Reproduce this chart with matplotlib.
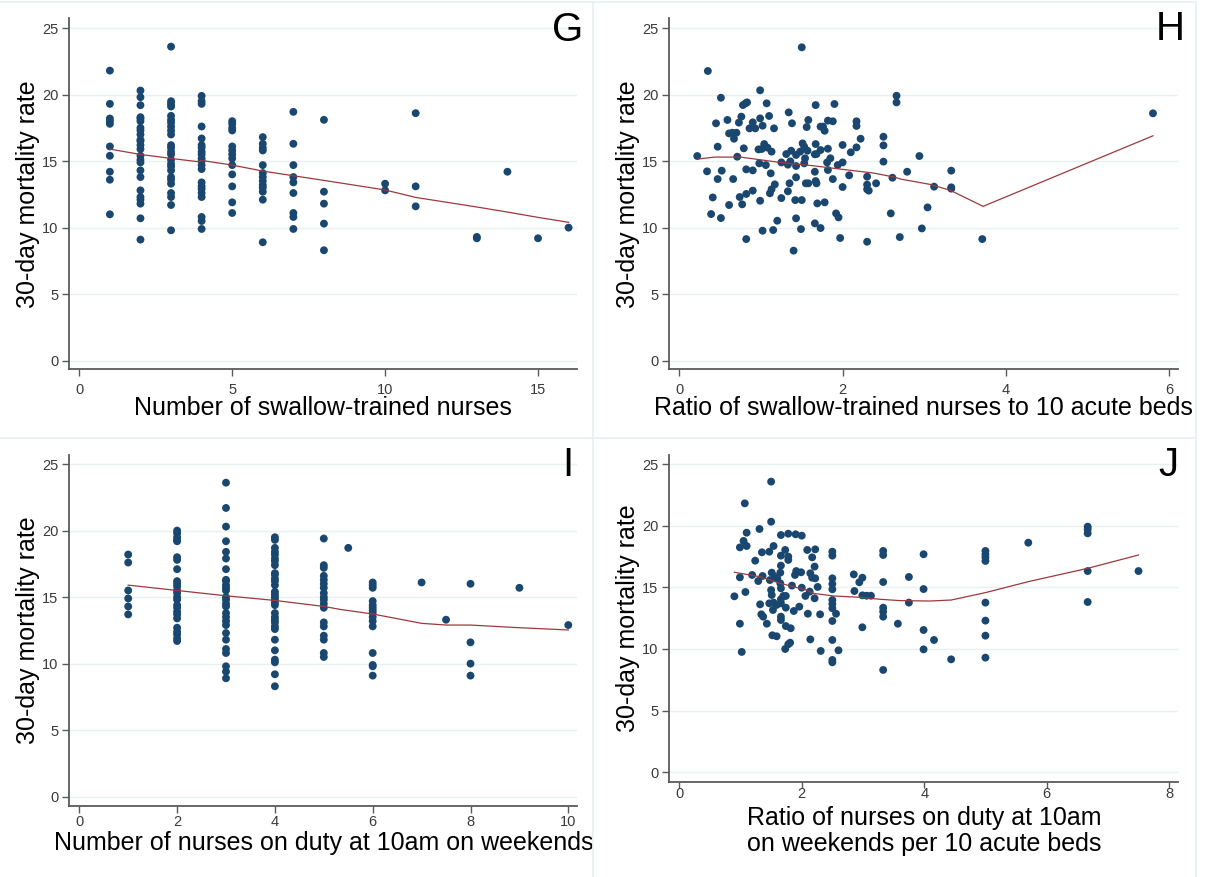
import numpy as np
import matplotlib
matplotlib.use("Agg")
import matplotlib.pyplot as plt
from matplotlib.lines import Line2D

plt.rcParams['font.family'] = ['Liberation Sans', 'DejaVu Sans']

NAVY = '#1a476f'
LINE_RED = '#9b3a3e'
GRID = '#e8f0f1'
AXIS_GREY = '#5a5a5a'

# G: number of swallow-trained nurses (discrete levels) vs 30-day mortality
g_levels = [1, 2, 3, 4, 5, 6, 7, 8, 10, 11, 13, 14, 15, 16]
g_rates = [
    [21.8, 19.3, 18.2, 18.0, 17.8, 16.1, 15.4, 14.2, 13.6, 11.0],
    [20.3, 19.8, 19.2, 18.3, 18.2, 18.0, 17.5, 17.3, 17.0, 16.6, 16.5, 16.2,
     15.9, 15.4, 15.1, 14.9, 14.3, 13.8, 12.8, 12.3, 12.1, 11.8, 10.7, 9.1],
    [23.6, 19.5, 19.3, 19.1, 18.4, 18.1, 17.9, 17.6, 17.3, 17.0, 16.2, 16.0,
     15.7, 15.5, 15.1, 14.8, 14.6, 14.3, 13.8, 13.6, 13.3, 12.6, 12.3, 11.7, 9.8],
    [19.9, 19.5, 19.3, 17.6, 16.7, 16.2, 16.0, 15.7, 15.5, 15.2, 15.0, 14.7,
     14.4, 13.4, 13.1, 12.9, 12.6, 12.3, 10.8, 10.5, 9.9],
    [18.0, 17.8, 17.5, 17.3, 16.1, 15.8, 15.5, 15.2, 14.7, 14.0, 13.1, 11.9, 11.1],
    [16.8, 16.3, 16.0, 15.8, 14.7, 14.1, 13.8, 13.5, 13.2, 13.0, 12.7, 12.1, 8.9],
    [18.7, 16.3, 14.7, 13.8, 13.4, 12.6, 11.1, 10.8, 9.9],
    [18.1, 12.7, 11.8, 10.3, 8.3],
    [13.3, 12.8],
    [18.6, 13.1, 11.6],
    [9.3, 9.2],
    [14.2],
    [9.2],
    [10.0],
]
g_fit_x = [1, 2, 3, 3.9, 4.0, 5, 6, 7, 8, 10, 11, 13, 14, 15, 16]
g_fit_y = [15.9, 15.5, 15.2, 14.95, 15.05, 14.7, 14.25, 13.9, 13.55, 12.83,
           12.27, 11.55, 11.17, 10.77, 10.4]

# H: ratio of swallow-trained nurses to 10 acute beds
h_ratio = [0.35, 1.50, 0.22, 0.51, 0.99, 0.78, 0.81, 0.83, 1.07, 1.67, 1.90,
           0.45, 0.59, 0.73, 0.76, 0.90, 0.99, 1.02, 1.10, 1.34, 1.38, 1.58,
           1.56, 1.76, 1.82, 1.88, 1.78, 1.73, 2.17, 2.17, 2.22, 1.16, 0.86,
           0.93, 0.61, 0.65, 0.70, 0.67, 0.47, 0.71, 0.79, 0.97, 1.01, 1.04,
           1.08, 1.13, 1.31, 1.37, 1.43, 1.51, 1.53, 1.48, 1.57, 1.67, 1.66,
           1.73, 1.82, 2.00, 2.10, 2.17, 2.50, 2.50, 2.50, 0.34, 0.52, 0.47,
           0.66, 0.82, 0.90, 0.98, 1.06, 1.12, 1.25, 1.33, 1.36, 1.43, 1.53,
           1.54, 1.68, 1.66, 1.82, 1.85, 1.81, 1.94, 2.00, 2.08, 2.30, 2.41,
           2.61, 2.79, 2.94, 0.41, 0.39, 0.51, 0.61, 0.77, 0.74, 0.82, 0.90,
           0.99, 1.11, 1.13, 1.17, 1.20, 1.02, 1.15, 1.25, 1.33, 1.35, 1.43,
           1.42, 1.50, 1.43, 1.49, 1.55, 1.58, 1.67, 1.68, 1.69, 1.78, 1.88,
           2.00, 1.92, 1.95, 1.66, 1.73, 1.97, 2.30, 2.30, 2.32, 2.59, 2.66,
           2.66, 2.70, 2.97, 3.04, 0.82, 1.40, 2.30, 3.12, 3.33, 3.33, 3.33,
           3.71, 5.80]
h_rate = [21.77, 23.55, 15.38, 19.76, 20.32, 19.21, 19.34, 19.41, 19.34, 19.21,
          19.29, 17.84, 18.09, 17.89, 18.34, 17.91, 18.21, 17.66, 18.39, 18.66,
          17.84, 18.09, 17.56, 17.59, 18.04, 17.99, 17.28, 17.59, 17.99, 17.64,
          16.68, 17.46, 17.46, 17.46, 17.08, 17.13, 17.13, 16.68, 16.08, 15.33,
          15.96, 15.88, 15.91, 16.28, 16.01, 15.71, 15.53, 15.78, 15.46, 16.33,
          16.08, 15.71, 15.78, 16.28, 15.51, 15.83, 15.93, 16.21, 15.66, 16.03,
          16.83, 16.18, 14.96, 14.23, 14.28, 13.65, 13.65, 14.38, 14.30, 14.83,
          14.70, 14.08, 14.90, 14.73, 14.98, 14.63, 14.83, 15.21, 15.53, 14.20,
          14.33, 15.21, 14.90, 14.70, 14.90, 13.93, 13.83, 13.33, 13.75, 14.20,
          15.38, 12.27, 11.02, 10.72, 11.70, 11.75, 12.30, 12.53, 12.78, 12.02,
          12.58, 12.88, 13.25, 10.52, 9.77, 9.82, 12.22, 12.73, 13.33, 13.78,
          12.07, 12.07, 10.70, 9.89, 13.33, 13.33, 13.50, 13.33, 11.82, 11.90,
          13.65, 13.05, 11.07, 10.77, 10.32, 9.97, 9.22, 13.23, 12.88, 12.78,
          11.07, 19.91, 19.41, 9.29, 9.94, 11.52, 9.14, 8.27, 8.94, 13.08,
          14.28, 13.03, 12.93, 9.14, 18.59]
h_fit_x = [0.22, 0.43, 0.75, 1.23, 1.64, 1.97, 2.38, 2.63, 2.71, 3.07, 3.32, 3.72, 5.80]
h_fit_y = [15.15, 15.3, 15.3, 14.9, 14.65, 14.4, 14.1, 13.8, 13.65, 13.25, 12.8, 11.6, 16.9]

# I: nurses on duty at 10am on weekends (discrete levels)
i_levels = [1, 2, 3, 4, 5, 5.5, 6, 7, 7.5, 8, 9, 10]
i_rates = [
    [18.2, 17.6, 15.5, 14.9, 14.3, 13.7],
    [20.0, 19.8, 19.5, 19.3, 19.2, 18.0, 17.8, 17.1, 16.2, 16.0, 15.8, 15.5,
     15.3, 15.0, 14.8, 14.4, 14.2, 13.9, 13.7, 13.4, 12.7, 12.4, 12.2, 11.9, 11.7],
    [23.6, 21.7, 20.3, 19.2, 18.4, 17.9, 17.1, 16.3, 16.2, 15.9, 15.7, 15.5,
     15.0, 14.8, 14.5, 14.3, 13.8, 13.5, 13.2, 12.9, 12.3, 11.8, 11.1, 10.8,
     9.8, 9.4, 8.9],
    [19.5, 19.3, 18.7, 18.4, 18.2, 17.9, 17.7, 17.4, 16.8, 16.7, 16.4, 16.2,
     15.9, 15.4, 15.2, 15.0, 14.8, 14.6, 14.4, 13.8, 13.5, 13.3, 13.1, 12.8,
     12.6, 11.8, 11.0, 10.3, 10.1, 9.2, 8.3],
    [19.4, 17.4, 17.2, 16.6, 16.3, 16.0, 15.7, 15.3, 15.0, 14.8, 14.5, 14.2,
     13.1, 12.8, 12.1, 11.8, 10.8, 10.5],
    [18.7],
    [16.1, 15.9, 15.7, 14.7, 14.4, 14.2, 14.0, 13.8, 13.5, 13.2, 12.8, 10.8,
     9.9, 9.8, 9.1],
    [16.1],
    [13.3],
    [16.0, 11.6, 10.0, 9.1],
    [15.7],
    [12.9],
]
i_fit_x = [1, 2, 3, 4, 5, 5.33, 6, 7, 7.5, 8, 9, 10]
i_fit_y = [15.9, 15.5, 15.1, 14.75, 14.3, 14.08, 13.73, 13.03, 12.9, 12.9, 12.7, 12.53]

# J: nurses on duty at 10am on weekends per 10 acute beds
j_ratio = [1.50, 1.07, 1.50, 1.31, 1.10, 1.66, 1.78, 1.90, 2.00, 1.05, 1.10,
           0.99, 1.54, 1.35, 1.47, 1.73, 1.66, 1.78, 1.78, 2.09, 2.22, 2.17,
           2.50, 2.50, 3.33, 3.33, 1.24, 2.21, 1.66, 1.51, 1.65, 1.91, 1.99,
           1.89, 2.14, 2.17, 2.22, 1.19, 0.99, 1.36, 1.29, 1.48, 1.56, 1.60,
           1.65, 1.66, 1.84, 2.00, 2.26, 2.50, 2.50, 2.50, 2.85, 2.99, 2.94,
           2.86, 3.33, 3.75, 1.08, 0.90, 1.50, 1.51, 1.70, 1.74, 1.66, 2.06,
           2.13, 2.21, 2.99, 3.06, 3.13, 1.32, 1.47, 1.54, 1.59, 1.53, 1.66,
           1.74, 1.87, 1.96, 2.50, 2.50, 2.50, 3.75, 3.33, 3.33, 3.33, 1.34,
           1.37, 1.66, 1.66, 2.10, 2.30, 2.56, 2.50, 0.99, 1.43, 1.74, 1.82,
           2.99, 3.57, 1.52, 1.59, 2.14, 1.81, 1.78, 2.50, 1.73, 2.31, 2.60,
           1.02, 2.50, 2.50, 3.33, 3.99, 3.99, 3.99, 3.99, 4.16, 4.44, 5.00,
           5.00, 5.00, 5.00, 5.00, 5.00, 5.00, 5.00, 5.70, 6.67, 6.67, 6.67,
           6.67, 6.67, 7.50]
j_rate = [23.57, 21.81, 20.32, 19.73, 19.43, 19.24, 19.35, 19.30, 19.19, 18.76,
          18.35, 18.24, 18.35, 17.84, 17.89, 18.03, 17.57, 17.49, 17.22, 18.03,
          18.08, 17.43, 17.89, 17.57, 17.95, 17.62, 17.16, 16.68, 16.76, 16.19,
          16.19, 16.32, 16.22, 16.00, 16.14, 15.78, 15.73, 16.00, 15.81, 15.92,
          15.51, 15.59, 15.86, 15.73, 15.32, 14.92, 15.14, 14.97, 15.03, 15.73,
          15.27, 14.84, 16.05, 15.78, 15.41, 14.70, 15.43, 15.84, 14.62, 14.27,
          14.78, 14.38, 14.30, 14.30, 14.03, 14.30, 14.65, 14.11, 14.35, 14.32,
          14.32, 13.62, 13.70, 13.76, 13.57, 13.16, 13.70, 13.35, 13.08, 13.43,
          13.97, 13.65, 13.30, 13.76, 13.35, 13.03, 12.62, 12.81, 12.62, 12.62,
          12.35, 12.86, 12.81, 12.86, 12.27, 12.05, 12.05, 11.86, 11.68, 11.76,
          12.05, 11.11, 11.03, 10.78, 10.51, 10.38, 10.73, 10.00, 9.84, 9.89,
          9.76, 9.11, 8.92, 8.30, 17.68, 14.86, 11.54, 9.97, 10.73, 9.16,
          17.95, 17.68, 17.43, 17.14, 13.76, 12.30, 11.08, 9.30, 18.62, 19.92,
          19.70, 19.38, 16.32, 13.81, 16.32]
j_fit_x = [0.9, 1.32, 1.65, 2.08, 2.19, 2.52, 2.95, 3.28, 3.61, 4.1, 4.44, 5.0, 5.7, 6.67, 7.5]
j_fit_y = [16.22, 15.86, 15.32, 14.78, 14.51, 14.3, 14.19, 14.03, 13.92, 13.89,
           13.97, 14.57, 15.46, 16.54, 17.62]

W, H = 1207, 877
fig = plt.figure(figsize=(W / 100, H / 100), dpi=100)


def px_rect(left, top, right, bottom):
    return [left / W, 1 - bottom / H, (right - left) / W, (bottom - top) / H]


def style_axes(ax, xlim, ylim, xticks, xlabel, letter, letter_xy,
               xpad=-1, tickpad=5, ticklen=5):
    ax.set_xlim(*xlim)
    ax.set_ylim(*ylim)
    ax.set_xticks(xticks)
    ax.set_yticks([0, 5, 10, 15, 20, 25])
    for y in [0, 5, 10, 15, 20, 25]:
        ax.axhline(y, color=GRID, lw=1.0, zorder=0)
    for side in ['top', 'right']:
        ax.spines[side].set_visible(False)
    for side in ['left', 'bottom']:
        ax.spines[side].set_color(AXIS_GREY)
        ax.spines[side].set_linewidth(1.3)
    ax.tick_params(direction='out', length=5, width=1, color=AXIS_GREY,
                   labelsize=10.5, labelcolor='#3a3a3a', pad=3)
    ax.tick_params(axis='x', pad=tickpad, length=ticklen)
    ax.set_ylabel('30-day mortality rate', fontsize=18, labelpad=1)
    ax.set_xlabel(xlabel, fontsize=18, labelpad=xpad, linespacing=1.12)
    fig.text(letter_xy[0] / W, 1 - letter_xy[1] / H, letter, fontsize=29,
             ha='center', va='center')


def scatter_fit(ax, xs, ys, fx, fy):
    ax.scatter(xs, ys, s=32, color=NAVY, edgecolors='none', zorder=3)
    ax.plot(fx, fy, color=LINE_RED, lw=0.9, zorder=4)


# panel G
ax_g = fig.add_axes(px_rect(69.3, 18.3, 577.3, 369.3))
gx = [lv for lv, col in zip(g_levels, g_rates) for _ in col]
gy = [v for col in g_rates for v in col]
scatter_fit(ax_g, gx, gy, g_fit_x, g_fit_y)
style_axes(ax_g, (-0.327, 16.285), (-0.646, 25.73), [0, 5, 10, 15],
           'Number of swallow-trained nurses', 'G', (568, 30))

# panel H
ax_h = fig.add_axes(px_rect(669.3, 18.3, 1178.3, 369.3))
scatter_fit(ax_h, h_ratio, h_rate, h_fit_x, h_fit_y)
style_axes(ax_h, (-0.122, 6.11), (-0.646, 25.73), [0, 2, 4, 6],
           'Ratio of swallow-trained nurses to 10 acute beds', 'H', (1170, 29))

# panel I
ax_i = fig.add_axes(px_rect(69.3, 455, 577.3, 805.7))
ix = [lv for lv, col in zip(i_levels, i_rates) for _ in col]
iy = [v for col in i_rates for v in col]
scatter_fit(ax_i, ix, iy, i_fit_x, i_fit_y)
style_axes(ax_i, (-0.2045, 10.184), (-0.676, 25.68), [0, 2, 4, 6, 8, 10],
           'Number of nurses on duty at 10am on weekends', 'I', (568, 465),
           xpad=1, tickpad=2)

# panel J
ax_j = fig.add_axes(px_rect(669.3, 455, 1178.3, 781.7))
scatter_fit(ax_j, j_ratio, j_rate, j_fit_x, j_fit_y)
style_axes(ax_j, (-0.163, 8.15), (-0.762, 25.73), [0, 2, 4, 6, 8],
           'Ratio of nurses on duty at 10am\non weekends per 10 acute beds',
           'J', (1168, 465), xpad=3.5, tickpad=0, ticklen=4)

# light outlines separating the four graph regions
for xs, ys in [([0, 1196], [2, 2]), ([0, 1196], [438, 438]),
               ([593, 593], [2, 877]), ([1196, 1196], [2, 877])]:
    fig.add_artist(Line2D([x / W for x in xs], [1 - y / H for y in ys],
                          color=GRID, lw=1.2))

fig.savefig('out.png', dpi=100)
